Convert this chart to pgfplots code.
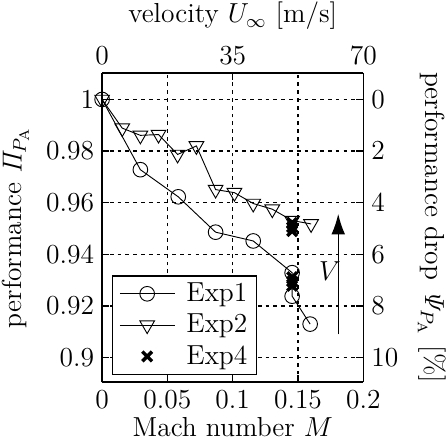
\documentclass[border=0pt]{standalone}
\usepackage{pgfplots}
\pgfplotsset{compat=1.18}
\usetikzlibrary{arrows.meta}

\pgfplotsset{
    every axis/.append style={
        scale only axis,
        width=114pt, height=135pt,
        tick label style={font=\large},
        label style={font=\large, inner sep=1pt},
        axis line style={line width=0.7pt},
        tick style={black, line width=0.6pt},
        major tick length=3pt,
    },
}

\begin{document}
\begin{tikzpicture}
\begin{axis}[
    xmin=0, xmax=0.2,
    ymin=0.8905, ymax=1.0103,
    xtick={0,0.05,0.1,0.15,0.2},
    xticklabels={0,0.05,0.1,0.15,0.2},
    ytick={0.9,0.92,0.94,0.96,0.98,1},
    yticklabels={0.9,0.92,0.94,0.96,0.98,1},
    axis x line*=bottom, axis y line*=left,
    xlabel={Mach number $M$},
    ylabel={performance $\mathit{\Pi}_{P_\mathrm{A}}$},
    xlabel style={yshift=1pt},
    ylabel style={yshift=3pt},
    grid=major,
    grid style={black, dash pattern=on 1.6pt off 1.8pt, line width=0.6pt},
    legend style={at={(rel axis cs:0.037,0.023)}, anchor=south west,
        draw=black, line width=0.6pt, fill=white, font=\large,
        row sep=2pt, inner xsep=3pt, inner ysep=2pt,
        nodes={inner sep=1pt},
        /tikz/every odd column/.append style={column sep=4pt}},
    legend cell align=left,
    legend image code/.code={
        \draw[mark repeat=2,mark phase=2] plot coordinates {(0cm,0cm) (0.42cm,0cm) (0.84cm,0cm)};},
]
\addplot[black, line width=0.4pt, mark=o, mark size=3.2pt, mark options={line width=0.4pt}] coordinates {
(0,1.0) (0.0293,0.9728) (0.0583,0.9623) (0.0869,0.9486) (0.1157,0.9452)
(0.1455,0.9329) (0.1455,0.9238) (0.1593,0.9130)};
\addlegendentry{Exp1}
\addplot[black, line width=0.4pt, mark=triangle, mark size=3.7pt, mark options={rotate=180, line width=0.4pt, fill=white}] coordinates {
(0,1.0) (0.0154,0.9889) (0.0293,0.9861) (0.0432,0.9864) (0.0578,0.9787)
(0.0722,0.9820) (0.0869,0.9651) (0.1013,0.9639) (0.1157,0.9597)
(0.1303,0.9575) (0.1455,0.9531) (0.1600,0.9518)};
\addlegendentry{Exp2}
\addplot[black, only marks, mark=x, mark size=3pt, mark options={line width=1.5pt}] coordinates {
(0.1455,0.9522) (0.1455,0.9505) (0.1455,0.9490)
(0.1455,0.9312) (0.1455,0.9295) (0.1455,0.9278)};
\addlegendentry{Exp4}
\draw[line width=0.6pt, -{Latex[length=9pt,width=6pt]}] (axis cs:0.1808,0.909) -- (axis cs:0.1808,0.9557);
\node[font=\large] at (axis cs:0.1745,0.9335) {$V$};
\end{axis}
\begin{axis}[
    xmin=0, xmax=70,
    ymin=-1.03, ymax=10.95, y dir=reverse,
    xtick={0,35,70},
    ytick={0,2,4,6,8,10},
    axis x line*=top, axis y line*=right,
    xlabel={velocity $U_\infty$ [m/s]},
    xlabel style={yshift=3pt},
    ylabel={performance drop $\mathit{\Psi}_{P_\mathrm{A}}$ [\%]},
    ylabel style={rotate=180, yshift=4pt},
]
\end{axis}
\end{tikzpicture}
\end{document}
